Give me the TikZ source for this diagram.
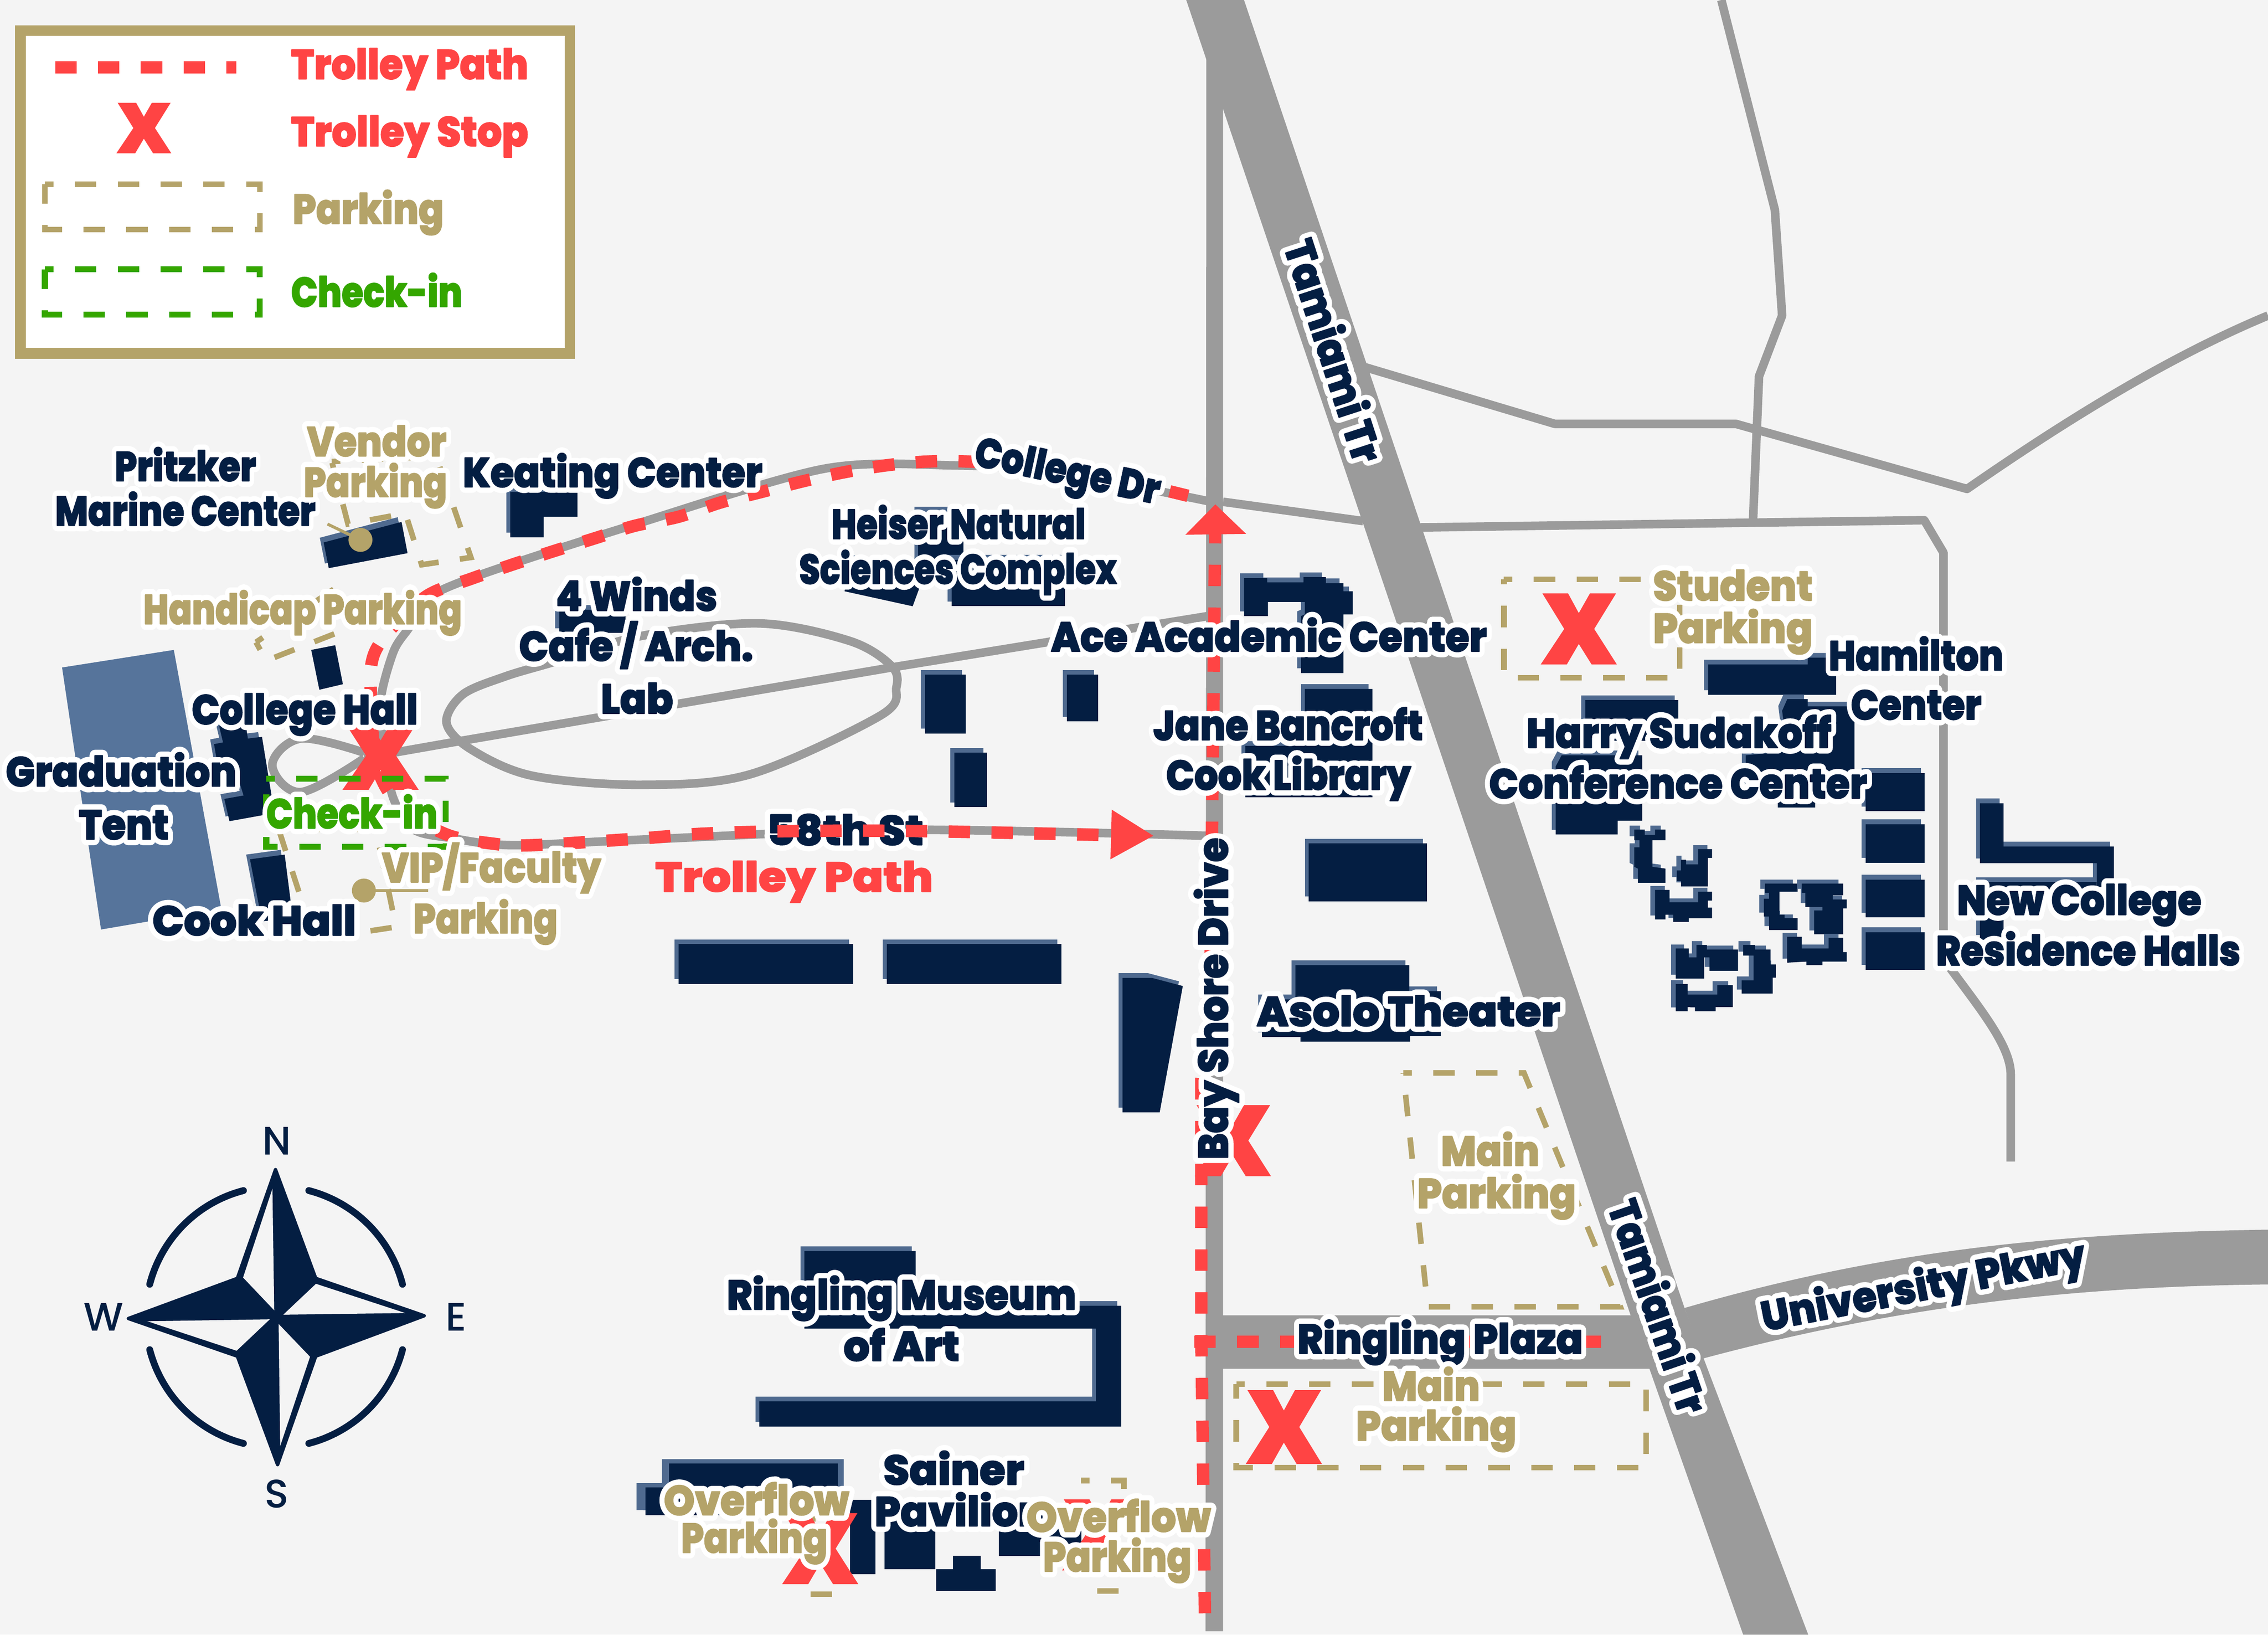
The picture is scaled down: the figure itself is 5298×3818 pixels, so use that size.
\documentclass[tikz,border=0pt]{standalone}
\usepackage{fontspec}
\usepackage{graphicx}
\newfontfamily\mapf{Poppins}[UprightFont=* ExtraBold,FakeBold=2.5]
\newfontfamily\halof{Poppins}[UprightFont=* ExtraBold,FakeBold=28]
\newfontfamily\compf{Poppins}[UprightFont=* Medium]
\definecolor{bgc}{HTML}{F4F4F4}
\definecolor{roadc}{HTML}{9B9B9B}
\definecolor{navyc}{HTML}{041E42}
\definecolor{shadowc}{HTML}{4F6A8F}
\definecolor{tentc}{HTML}{56749B}
\definecolor{redc}{HTML}{FF4444}
\definecolor{tanc}{HTML}{B4A369}
\definecolor{greenc}{HTML}{34A600}
\newdimen\pxu \pxu=0.2pt
\tikzset{
 road/.style={draw=roadc,line width=4pt,line join=round},
 trolley/.style={draw=redc,line width=5.8pt,dash pattern=on 10pt off 10pt},
 parkbox/.style={draw=tanc,line width=2.6pt,dash pattern=on 10pt off 10pt,dash phase=6pt},
 checkbox/.style={draw=greenc,line width=2.8pt,dash pattern=on 10pt off 10pt,dash phase=6pt},
 lbl/.style={inner sep=0pt,outer sep=0pt,anchor=base,yshift=-0.7pt,font=\fontsize{19.4pt}{20pt}\selectfont},
 lblc/.style={inner sep=0pt,outer sep=0pt,anchor=center,font=\fontsize{19.4pt}{20pt}\selectfont},
 pics/tstop/.style={code={\fill[redc] (-85,-83)--(-25,-83)--(0,-37)--(26,-83)--(87,-83)--(36,0)--(89,83)--(30,83)--(0,35)--(-28,83)--(-89,83)--(-34,0)--cycle;}},
}
\newcommand{\bldg}[1]{\fill[shadowc,shift={(-9,-11)}] #1 -- cycle; \fill[navyc] #1 -- cycle;}
\newcommand{\brect}[4]{\bldg{(#1,#2)--(#3,#2)--(#3,#4)--(#1,#4)}}
\newcommand{\haloed}[2]{\rlap{\textcolor{white}{\halof #2}}\textcolor{#1}{\mapf #2}}
\newcommand{\hl}[7][lbl]{\node[#1,rotate=#5] (#2) at (#3,#4) {\resizebox{#6\pxu}{\height}{#7}};}
\begin{document}
\begin{tikzpicture}[x=0.2pt,y=-0.2pt]
\useasboundingbox (0,0) rectangle (5298,3818);
\fill[bgc] (0,0) rectangle (5298,3818);
% major roads
\fill[roadc] (2771,0)--(2906,0)--(3935,3055)--(4224,3818)--(4072,3818)--(3809,3072)--cycle;
\fill[roadc] (2818,100)--(2857,100)--(2857,3810)--(2816,3810)--cycle;
\fill[roadc] (2818,3072)--(3860,3072)--(3900,3197)--(2818,3197)--cycle;
\fill[roadc] (3935,3055) .. controls (4400,2920) and (4800,2880) .. (5298,2872) -- (5298,3000) .. controls (4800,3005) and (4400,3060) .. (3978,3173) -- cycle;
% thin roads
\draw[road] (4021,0)--(4146,490)--(4163,737)--(4109,879)--(4095,1216);
\draw[road] (3180,855)--(3632,990)--(4055,990)--(4595,1142) .. controls (4800,1000) and (5050,840) .. (5298,737);
\draw[road] (3317,1232)--(4495,1215)--(4540,1291)--(4540,2240) .. controls (4620,2350) and (4697,2440) .. (4697,2510) -- (4697,2713);
\draw[road] (2857,1172)--(3184,1217);
\draw[road] plot[smooth,tension=0.5] coordinates {(2818,1952)(2106,1938)(1500,1961)(1196,1974)(1052,1957)(966,1937)(918,1862)(895,1740)(890,1630)(920,1520)(957,1464)(1000,1396)(1129,1340)(1473,1228)(1924,1095)(2227,1087)(2469,1103)(2820,1170)};
\draw[road] (851,1770)--(1062,1733)--(2082,1559)--(2821,1439);
\draw[road] plot[smooth,tension=0.6] coordinates {(851,1758)(703,1725)(636,1787)(703,1850)(851,1771)};
\draw[road] plot[smooth cycle,tension=0.55] coordinates {(1043,1688)(1081,1622)(1180,1580)(1291,1547)(1500,1485)(1773,1456)(1985,1497)(2082,1555)(2094,1605)(2057,1671)(1754,1808)(1500,1833)(1244,1812)(1100,1750)};
% tent
\fill[tentc] (145,1559)--(406,1518)--(517,2123)--(236,2171)--cycle;
% label under the trolley path
\begin{scope}[line join=round]
\hl{st58}{1974}{1970}{0}{366}{\haloed{navyc}{58th St}}
\end{scope}
% trolley path
\draw[trolley] plot[smooth,tension=0.55] coordinates {(2566,1950)(2142,1941)(1863,1941)(1645,1947)(1500,1958)(1244,1974)(1148,1970)(1043,1949)(938,1887)(880,1787)(866,1613)(873,1530)(918,1464)(1000,1390)(1100,1352)(1196,1319)(1291,1288)(1387,1258)(1483,1228)(1585,1207)(1682,1174)(1779,1149)(1876,1124)(1972,1103)(2069,1087)(2166,1078)(2263,1078)(2469,1091)(2566,1108)(2775,1158)};
\draw[trolley] (2839,1219)--(2828,2230)--(2806,2520)--(2806,3100)--(2815,3790);
\draw[trolley] (2790,3134)--(3740,3134);
\fill[redc] (2839,1178)--(2911,1247)--(2769,1249)--cycle;
\fill[redc] (2597,1891)--(2694,1952)--(2594,2007)--cycle;
% parking areas
\draw[parkbox] (775,1078)--(1019,1066)--(1100,1302)--(985,1319)--(947,1199)--(813,1224)--cycle;
\draw[parkbox] (598,1500)--(622,1543)--(823,1464)--(784,1373)--cycle;
\draw[parkbox] (651,1937)--(878,1937)--(925,2165)--(734,2194)--cycle;
\draw[parkbox] (3513,1353)--(3924,1353)--(3924,1583)--(3513,1583)--cycle;
\draw[parkbox] (3278,2506)--(3560,2506)--(3785,3052)--(3335,3052)--cycle;
\draw[parkbox] (2888,3233)--(3845,3233)--(3845,3428)--(2888,3428)--cycle;
\draw[parkbox] (1885,3547)--(1961,3547)--(1961,3723)--(1885,3723)--cycle;
\draw[parkbox] (2525,3458)--(2625,3458)--(2625,3716)--(2525,3716);
% buildings
\bldg{(1192,1149)--(1349,1149)--(1349,1207)--(1270,1207)--(1270,1255)--(1192,1255)}
\bldg{(768,1327)--(952,1292)--(938,1219)--(756,1267)}
\fill[navyc] (727,1518)--(783,1507)--(801,1598)--(746,1611)--cycle;
\bldg{(512,1696)--(574,1692)--(579,1725)--(612,1721)--(641,1899)--(536,1918)--(524,1866)--(569,1858)--(560,1829)--(517,1837)--(500,1738)--(521,1734)}
\bldg{(584,2007)--(665,1996)--(684,2144)--(612,2152)}
\brect{1306}{1424}{1461}{1478}
\brect{2145}{1195}{2251}{1320}
\bldg{(1973,1381)--(2132,1416)--(2154,1356)--(1985,1302)}
\brect{2223}{1307}{2488}{1416}
\bldg{(2906,1350)--(2960,1350)--(2960,1360)--(3045,1360)--(3045,1348)--(3097,1348)--(3097,1362)--(3138,1362)--(3138,1381)--(3160,1381)--(3160,1435)--(3138,1435)--(3138,1572)--(3039,1572)--(3039,1439)--(3048,1435)--(3048,1406)--(2962,1406)--(2962,1439)--(2906,1439)}
\brect{2160}{1576}{2256}{1713}
\brect{2492}{1576}{2565}{1685}
\brect{2229}{1758}{2306}{1885}
\bldg{(3048,1609)--(3206,1609)--(3206,1862)--(2909,1862)--(2909,1742)--(3048,1742)}
\brect{3057}{1970}{3333}{2105}
\brect{1585}{2205}{1993}{2298}
\brect{2071}{2205}{2479}{2298}
\bldg{(2622,2284)--(2691,2284)--(2763,2303)--(2709,2598)--(2622,2598)}
\bldg{(3026,2254)--(3292,2254)--(3292,2315)--(3366,2315)--(3366,2420)--(3294,2420)--(3294,2433)--(3038,2433)--(3038,2422)--(2948,2422)--(2948,2334)--(3026,2334)}
\bldg{(1879,2922)--(2139,2922)--(2139,3050)--(2619,3050)--(2619,3332)--(1774,3332)--(1774,3273)--(2560,3273)--(2560,3103)--(1879,3103)}
\fill[shadowc] (1546,3408)--(1971,3408)--(1971,3530)--(1487,3527)--(1487,3464)--(1546,3464)--cycle;
\fill[navyc] (1563,3418)--(1957,3418)--(1957,3539)--(1508,3539)--(1508,3474)--(1563,3474)--cycle;
\fill[navyc] (1986,3503) rectangle (2045,3677);
\fill[navyc] (2066,3540) rectangle (2185,3665);
\fill[navyc] (2226,3634)--(2291,3634)--(2291,3665)--(2326,3665)--(2326,3716)--(2187,3716)--(2187,3665)--(2226,3665)--cycle;
\fill[navyc] (2333,3560) rectangle (2526,3634);
\bldg{(3990,1552)--(4223,1552)--(4223,1536)--(4289,1536)--(4289,1623)--(3990,1623)}
\bldg{(4175,1633)--(4223,1633)--(4223,1650)--(4332,1650)--(4332,1805)--(4240,1805)--(4240,1886)--(4153,1886)--(4153,1863)--(4078,1838)--(4078,1764)--(4175,1755)--(4163,1660)}
\brect{3703}{1635}{3921}{1730}
\bldg{(3634,1790)--(3648,1764)--(3836,1764)--(3836,1917)--(3779,1917)--(3779,1949)--(3634,1949)}
\brect{4358}{1805}{4496}{1895}
\brect{4358}{1925}{4496}{2015}
\brect{4358}{2054}{4496}{2143}
\brect{4358}{2177}{4496}{2265}
\bldg{(4625,1876)--(4680,1876)--(4680,1977)--(4938,1977)--(4938,2072)--(4898,2072)--(4898,2016)--(4625,2016)}
\bldg{(4625,2060)--(4898,2060)--(4898,2090)--(4680,2090)--(4680,2195)--(4625,2195)}
\begin{scope}[shift={(3400,1150)},xscale=1.2107,yscale=0.829]
\bldg{(345,950)--(365,950)--(365,965)--(385,965)--(385,950)--(405,950)--(405,980)--(380,980)--(380,1055)--(405,1060)--(405,1100)--(352,1100)--(352,1060)--(345,1055)--(345,1000)--(355,1000)--(355,980)--(345,980)}
\bldg{(435,1035)--(445,1035)--(445,1048)--(468,1048)--(468,1005)--(495,1005)--(495,1030)--(487,1030)--(487,1110)--(435,1110)--(435,1095)--(427,1095)--(427,1065)--(435,1065)}
\bldg{(385,1120)--(413,1120)--(413,1155)--(468,1155)--(468,1125)--(495,1125)--(495,1150)--(487,1150)--(487,1170)--(495,1170)--(495,1200)--(450,1200)--(450,1210)--(420,1210)--(420,1190)--(405,1190)--(405,1203)--(385,1203)}
\bldg{(597,1102)--(660,1102)--(660,1125)--(625,1125)--(625,1190)--(635,1190)--(635,1200)--(660,1200)--(660,1233)--(605,1233)--(605,1195)--(595,1195)--(595,1145)--(605,1145)--(605,1128)--(597,1128)}
\bldg{(668,1102)--(748,1102)--(748,1135)--(728,1135)--(728,1147)--(755,1147)--(755,1172)--(748,1172)--(748,1245)--(692,1245)--(692,1178)--(708,1178)--(708,1168)--(675,1168)--(675,1128)--(668,1128)}
\bldg{(640,1252)--(668,1252)--(668,1285)--(720,1285)--(720,1255)--(748,1255)--(748,1295)--(755,1295)--(755,1322)--(708,1322)--(708,1332)--(677,1332)--(677,1322)--(640,1325)}
\bldg{(465,1275)--(485,1275)--(485,1288)--(545,1288)--(545,1348)--(490,1348)--(490,1310)--(480,1310)--(480,1370)--(425,1370)--(425,1285)--(450,1285)--(450,1310)--(465,1310)}
\bldg{(555,1275)--(578,1275)--(578,1288)--(608,1288)--(608,1330)--(618,1330)--(618,1367)--(612,1367)--(612,1412)--(552,1412)--(552,1375)--(575,1375)--(575,1305)--(555,1305)}
\bldg{(425,1385)--(448,1385)--(448,1415)--(505,1415)--(505,1388)--(535,1388)--(535,1450)--(502,1450)--(502,1462)--(462,1462)--(462,1450)--(448,1450)--(448,1462)--(425,1462)}
\end{scope}
% markers
\draw[tanc,line width=1.4pt] (842,1261)--(765,1224);
\fill[tanc] (842,1261) circle[radius=28];
\draw[tanc,line width=1.4pt] (850,2080)--(1000,2080);
\fill[tanc] (850,2080) circle[radius=28];
% trolley stops
\pic[shift={(889,1765)},yscale=0.96] {tstop};
\pic[shift={(3688,1469)}] {tstop};
\pic[shift={(2880,2664)}] {tstop};
\pic[shift={(2999,3333)},yscale=1.04] {tstop};
\pic[shift={(1916,3617)}] {tstop};
\pic[shift={(2570,3585)}] {tstop};
% check-in area
\draw[checkbox] (622,1819)--(1041,1819)--(1041,1978)--(622,1978)--cycle;
% legend
\fill[tanc] (35,59) rectangle (1344,838);
\fill[white] (60,84) rectangle (1319,813);
\draw[trolley] (129,157)--(552,157);
\pic[shift={(336,299)},xscale=0.72,yscale=0.71] {tstop};
\draw[parkbox] (105,430)--(607,430)--(607,536)--(105,536)--cycle;
\draw[checkbox] (105,629)--(607,629)--(607,735)--(105,735)--cycle;
% compass
\begin{scope}[shift={(200,2550)},xscale=0.606,yscale=0.638]
\fill[navyc,draw=navyc,line width=1.6pt,line join=round] (732,285)--(887,683)--(1305,820)--(887,968)--(740,1365)--(585,968)--(165,830)--(585,683)--cycle;
\fill[bgc] (720,355)--(607,680)--(727,800)--cycle;
\fill[bgc] (888,703)--(1232,810)--(762,816)--cycle;
\fill[bgc] (744,850)--(865,970)--(750,1297)--cycle;
\fill[bgc] (238,840)--(710,833)--(582,948)--cycle;
\end{scope}
\foreach \aa/\bb in {14.5/75.5,104.5/165.5,194.5/255.5,284.5/345.5}
  \draw[navyc,line width=3.2pt,line cap=round] plot[domain=\aa:\bb,samples=40] ({645+305*cos(\x)},{3076-305*sin(\x)});
\node[lblc,font=\fontsize{18.6pt}{19pt}\selectfont,text=navyc] (cn) at (646,2665) {\compf N};
\node[lblc,font=\fontsize{18.6pt}{19pt}\selectfont,text=navyc] (cs) at (646,3489) {\compf S};
\node[lblc,font=\fontsize{18.6pt}{19pt}\selectfont,text=navyc] (cw) at (242,3076) {\compf W};
\node[lblc,font=\fontsize{18.6pt}{19pt}\selectfont,text=navyc] (ce) at (1065,3076) {\compf E};
% labels
\begin{scope}[line join=round]
\hl{lega}{957}{181}{0}{554}{\textcolor{redc}{\mapf Trolley Path}}
\hl{legb}{957}{338}{0}{554}{\textcolor{redc}{\mapf Trolley Stop}}
\hl{legc}{860}{519}{0}{353}{\textcolor{tanc}{\mapf Parking}}
\hl{legd}{880}{713}{0}{400}{\textcolor{greenc}{\mapf Check-in}}
\hl{pritzker}{433}{1120}{0}{330}{\haloed{navyc}{Pritzker}}
\hl{marine}{433}{1224}{0}{608}{\haloed{navyc}{Marine Center}}
\hl{keating}{1431}{1134}{0}{700}{\haloed{navyc}{Keating Center}}
\hl{vendor}{880}{1062}{0}{326}{\haloed{tanc}{Vendor}}
\hl{vendorb}{877}{1157}{0}{335}{\haloed{tanc}{Parking}}
\hl{handicap}{707}{1454}{0}{744}{\haloed{tanc}{Handicap Parking}}
\hl{winds}{1487}{1423}{0}{377}{\haloed{navyc}{4 Winds}}
\hl{cafe}{1486}{1540}{0}{547}{\haloed{navyc}{Cafe / Arch.}}
\hl{lab}{1488}{1663}{0}{169}{\haloed{navyc}{Lab}}
\hl{college}{712}{1688}{0}{528}{\haloed{navyc}{College Hall}}
\hl{grad}{283}{1833}{0}{539}{\haloed{navyc}{Graduation}}
\hl{tent}{289}{1957}{0}{210}{\haloed{navyc}{Tent}}
\hl{checkin}{822}{1931}{0}{400}{\haloed{greenc}{Check-in}}
\hl{vip}{1148}{2057}{0}{512}{\haloed{tanc}{VIP/Faculty}}
\hl{vipb}{1134}{2176}{0}{337}{\haloed{tanc}{Parking}}
\hl{cook}{594}{2181}{0}{476}{\haloed{navyc}{Cook Hall}}
\hl[lblc]{collegedr}{2492}{1110}{-12}{440}{\haloed{navyc}{College Dr}}
\hl{heiser}{2239}{1255}{0}{594}{\haloed{navyc}{Heiser Natural}}
\hl{sciences}{2238}{1360}{0}{742}{\haloed{navyc}{Sciences Complex}}
\hl{ace}{2964}{1518}{0}{1018}{\haloed{navyc}{Ace Academic Center}}
\hl{jane}{3009}{1725}{0}{630}{\haloed{navyc}{Jane Bancroft}}
\hl{library}{3010}{1841}{0}{572}{\haloed{navyc}{Cook Library}}
\hl{tpath}{1855}{2079}{0}{649}{\textcolor{redc}{\mapf Trolley Path}}
\hl{bay}{2868}{2329}{90}{752}{\haloed{navyc}{Bay Shore Drive}}
\hl[lblc]{tamia}{3118}{818}{-72}{540}{\haloed{navyc}{Tamiami Tr}}
\hl[lblc]{tamib}{3876}{3050}{-71}{520}{\haloed{navyc}{Tamiami Tr}}
\hl[lblc]{univ}{4494}{3010}{11}{770}{\haloed{navyc}{University Pkwy}}
\hl{student}{4048}{1399}{0}{373}{\haloed{tanc}{Student}}
\hl{studentb}{4048}{1498}{0}{373}{\haloed{tanc}{Parking}}
\hl{hamilton}{4476}{1562}{0}{408}{\haloed{navyc}{Hamilton}}
\hl{hamiltonb}{4476}{1677}{0}{305}{\haloed{navyc}{Center}}
\hl{harry}{3922}{1743}{0}{712}{\haloed{navyc}{Harry Sudakoff}}
\hl{conf}{3920}{1861}{0}{883}{\haloed{navyc}{Conference Center}}
\hl{newc}{4857}{2133}{0}{571}{\haloed{navyc}{New College}}
\hl{resid}{4878}{2251}{0}{711}{\haloed{navyc}{Residence Halls}}
\hl{asolo}{3290}{2393}{0}{709}{\haloed{navyc}{Asolo Theater}}
\hl{mainp}{3481}{2719}{0}{230}{\haloed{tanc}{Main}}
\hl{mainpb}{3496}{2818}{0}{371}{\haloed{tanc}{Parking}}
\hl{plaza}{3364}{3158}{0}{667}{\haloed{navyc}{Ringling Plaza}}
\hl{mainq}{3343}{3268}{0}{228}{\haloed{tanc}{Main}}
\hl{mainqb}{3355}{3361}{0}{375}{\haloed{tanc}{Parking}}
\hl{ringling}{2106}{3055}{0}{816}{\haloed{navyc}{Ringling Museum}}
\hl{ofart}{2106}{3175}{0}{271}{\haloed{navyc}{of Art}}
\hl{sainer}{2228}{3464}{0}{329}{\haloed{navyc}{Sainer}}
\hl{pavilion}{2243}{3561}{0}{400}{\haloed{navyc}{Pavilion}}
\hl{overa}{1767}{3535}{0}{433}{\haloed{tanc}{Overflow}}
\hl{overab}{1762}{3623}{0}{342}{\haloed{tanc}{Parking}}
\hl{overb}{2613}{3574}{0}{431}{\haloed{tanc}{Overflow}}
\hl{overbb}{2610}{3667}{0}{347}{\haloed{tanc}{Parking}}
\end{scope}
\end{tikzpicture}
\end{document}
